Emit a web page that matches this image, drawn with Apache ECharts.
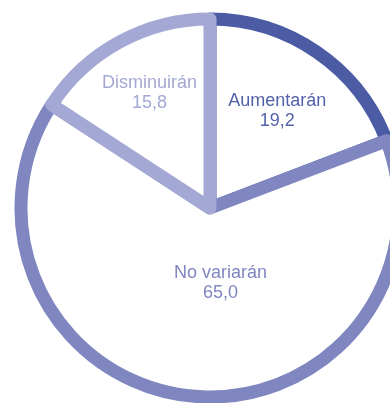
<!DOCTYPE html>
<html>
<head>
<meta charset="utf-8">
<style>
  html, body { margin: 0; padding: 0; background: #ffffff; }
  #chart { width: 390px; height: 403px; }
</style>
<script src="https://cdn.jsdelivr.net/npm/echarts@6/dist/echarts.min.js"></script>
</head>
<body>
<div id="chart"></div>
<script>
// Expectations share (%), clockwise from 12 o'clock
const categories = ['Aumentarán', 'No variarán', 'Disminuirán'];
const values = [19.2, 65.0, 15.8];
const valueLabels = ['19,2', '65,0', '15,8'];

// Slice outline colours and label text colours
const strokeColors = ['#4b5ba4', '#7f86c0', '#a4a8d4'];
const textColors = ['#5262aa', '#7f86c0', '#a4a8d4'];
// Nudges applied to each label from its default inside position
const labelOffsets = [[12, -17], [21, -22], [-14, -29]];

const chart = echarts.init(document.getElementById('chart'), null, { renderer: 'canvas' });

const data = categories.map((name, i) => ({
  name: name,
  value: values[i],
  itemStyle: {
    color: '#ffffff',
    borderColor: strokeColors[i],
    borderWidth: 13,
    borderJoin: 'round'
  },
  label: {
    color: textColors[i],
    offset: labelOffsets[i],
    formatter: name + '\n' + valueLabels[i]
  }
}));

chart.setOption({
  animation: false,
  series: [{
    type: 'pie',
    center: [210, 208],
    radius: [0, 189],
    startAngle: 90,
    clockwise: true,
    avoidLabelOverlap: false,
    silent: true,
    label: {
      show: true,
      position: 'inside',
      fontFamily: '"Liberation Sans", Arial, sans-serif',
      fontSize: 18,
      lineHeight: 20,
      align: 'center'
    },
    labelLine: { show: false },
    emphasis: { disabled: true },
    data: data
  }]
});
</script>
</body>
</html>
